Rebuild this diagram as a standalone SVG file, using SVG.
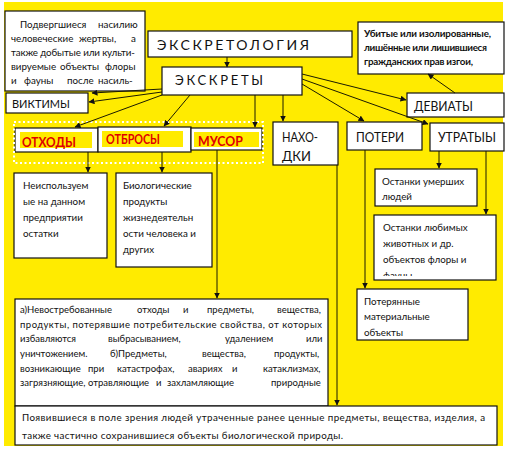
<svg xmlns="http://www.w3.org/2000/svg" width="509" height="450" viewBox="0 0 509 450">
<defs>
<style>
.box{fill:#fff;stroke:#111;stroke-width:1.2}
.t{font-family:Lato,"Open Sans","DejaVu Sans",sans-serif;fill:#111}
.s{font-size:9.8px}
.j{font-size:9.5px}
.m{font-size:13px}
.r{font-family:Lato,"Open Sans",sans-serif;font-size:14px;font-weight:bold;fill:#e00000}
.hl{fill:#ffeb00}
.c line{stroke:#1a1a00;stroke-width:1;marker-end:url(#ah)}
</style>
<marker id="ah" markerWidth="6" markerHeight="6" refX="5.5" refY="3" orient="auto" markerUnits="userSpaceOnUse">
<path d="M0,0 L6,3 L0,6 Z" fill="#111"/>
</marker>
<clipPath id="clipL"><rect x="375" y="216" width="120" height="60"/></clipPath>
</defs>
<rect x="4" y="2" width="499" height="444" fill="#ffeb00"/>

<g id="n-victims-desc">
<rect class="box" x="5" y="11" width="140" height="80"/>
<text class="t s" y="28"><tspan x="20">Подвергшиеся</tspan><tspan x="98">насилию</tspan></text>
<text class="t s" y="42"><tspan x="11">человеческие</tspan><tspan x="79">жертвы,</tspan><tspan x="131">а</tspan></text>
<text class="t s" x="11" y="56" textLength="124" lengthAdjust="spacing">также добытые или культи-</text>
<text class="t s" y="70"><tspan x="11">вируемые</tspan><tspan x="60">объекты</tspan><tspan x="105">флоры</tspan></text>
<text class="t s" y="84"><tspan x="11">и</tspan><tspan x="24">фауны</tspan><tspan x="67">после</tspan><tspan x="98">насиль-</tspan></text>
</g>

<g id="n-victims">
<rect class="box" x="6" y="93" width="82" height="20"/>
<text class="t" x="12" y="108" font-size="11">ВИКТИМЫ</text>
</g>

<g id="n-excretology">
<rect class="box" x="148" y="31" width="204" height="26"/>
<text class="t" x="157" y="50" font-size="14" textLength="152" lengthAdjust="spacing">ЭКСКРЕТОЛОГИЯ</text>
</g>

<g id="n-excreta">
<rect class="box" x="162" y="67" width="140" height="28"/>
<text class="t" x="175" y="85" font-size="13" textLength="88" lengthAdjust="spacing">ЭКСКРЕТЫ</text>
</g>

<g id="n-deviants-desc">
<rect class="box" x="358" y="22" width="146" height="52"/>
<text class="t s" x="364" y="37" font-weight="bold" textLength="127" lengthAdjust="spacing">Убитые или  изолированные,</text>
<text class="t s" x="364" y="51" font-weight="bold" textLength="123" lengthAdjust="spacing">лишённые или лишившиеся</text>
<text class="t s" x="364" y="65" font-weight="bold" textLength="109" lengthAdjust="spacing">гражданских прав изгои,</text>
</g>

<g id="n-deviants">
<rect class="box" x="407" y="93" width="97" height="24"/>
<text class="t m" x="414" y="111" textLength="59" lengthAdjust="spacingAndGlyphs">ДЕВИАТЫ</text>
</g>

<g id="n-otkhody">
<rect class="box" x="15" y="128" width="83" height="24"/>
<rect class="hl" x="20" y="132" width="72" height="16"/>
<text class="r" x="22" y="147" textLength="54" lengthAdjust="spacingAndGlyphs">ОТХОДЫ</text>
</g>

<g id="n-otbrosy">
<rect class="box" x="98" y="127" width="93" height="25"/>
<rect class="hl" x="102" y="131" width="81" height="16"/>
<text class="r" x="106" y="144" textLength="54" lengthAdjust="spacingAndGlyphs">ОТБРОСЫ</text>
</g>

<g id="n-musor">
<rect class="box" x="191" y="128" width="71" height="22"/>
<rect class="hl" x="194" y="132" width="65" height="15"/>
<text class="r" x="198" y="146" textLength="45" lengthAdjust="spacingAndGlyphs">МУСОР</text>
</g>

<rect x="14" y="122" width="249" height="41" fill="none" stroke="#fff" stroke-width="2" stroke-dasharray="2,2.5"/>

<g id="n-nakhodki">
<rect class="box" x="273" y="122" width="65" height="43"/>
<text class="t m" x="282" y="142" textLength="36" lengthAdjust="spacingAndGlyphs">НАХО-</text>
<text class="t m" x="282" y="161">ДКИ</text>
</g>

<g id="n-poteri">
<rect class="box" x="347" y="122" width="75" height="28"/>
<text class="t m" x="356" y="142" textLength="48" lengthAdjust="spacingAndGlyphs">ПОТЕРИ</text>
</g>

<g id="n-utraty">
<rect class="box" x="430" y="123" width="74" height="28"/>
<text class="t m" x="438" y="142" textLength="58" lengthAdjust="spacingAndGlyphs">УТРАТЫЫ</text>
</g>

<g id="n-unused">
<rect class="box" x="14" y="173" width="93" height="85"/>
<text class="t s" x="23" y="189">Неиспользуем</text>
<text class="t s" x="23" y="205">ые на данном</text>
<text class="t s" x="23" y="221">предприятии</text>
<text class="t s" x="23" y="237">остатки</text>
</g>

<g id="n-bio">
<rect class="box" x="116" y="173" width="96" height="94"/>
<text class="t s" x="123" y="189">Биологические</text>
<text class="t s" x="123" y="205">продукты</text>
<text class="t s" x="123" y="221">жизнедеятельн</text>
<text class="t s" x="123" y="237">ости человека и</text>
<text class="t s" x="123" y="253">других</text>
</g>

<g id="n-dead">
<rect class="box" x="375" y="169" width="102" height="37"/>
<text class="t s" x="382" y="185">Останки умерших</text>
<text class="t s" x="382" y="200">людей</text>
</g>

<g id="n-pets">
<rect class="box" x="374" y="215" width="122" height="65"/>
<g clip-path="url(#clipL)">
<text class="t s" x="383" y="231">Останки любимых</text>
<text class="t s" x="383" y="247">животных и др.</text>
<text class="t s" x="383" y="263">объектов флоры и</text>
<text class="t s" x="383" y="279">фауны</text>
</g>
</g>

<g id="n-lost">
<rect class="box" x="357" y="289" width="111" height="51"/>
<text class="t s" x="364" y="305">Потерянные</text>
<text class="t s" x="364" y="320">материальные</text>
<text class="t s" x="364" y="336">объекты</text>
</g>

<g id="n-musor-desc">
<rect class="box" x="15" y="299" width="313" height="107"/>
<text class="t j" y="313"><tspan x="20">а)Невостребованные</tspan><tspan x="137">отходы</tspan><tspan x="183">и</tspan><tspan x="207">предметы,</tspan><tspan x="277">вещества,</tspan></text>
<text class="t j" x="20" y="328" textLength="302" lengthAdjust="spacing">продукты, потерявшие потребительские свойства, от которых</text>
<text class="t j" y="342"><tspan x="20">избавляются</tspan><tspan x="108">выбрасыванием,</tspan><tspan x="225">удалением</tspan><tspan x="306">или</tspan></text>
<text class="t j" y="357"><tspan x="20">уничтожением.</tspan><tspan x="110">б)Предметы,</tspan><tspan x="202">вещества,</tspan><tspan x="274">продукты,</tspan></text>
<text class="t j" y="372"><tspan x="20">возникающие</tspan><tspan x="88">при</tspan><tspan x="117">катастрофах,</tspan><tspan x="188">авариях</tspan><tspan x="232">и</tspan><tspan x="263">катаклизмах,</tspan></text>
<text class="t j" y="386"><tspan x="20">загрязняющие,</tspan><tspan x="88">отравляющие</tspan><tspan x="156">и</tspan><tspan x="167">захламляющие</tspan><tspan x="271">природные</tspan></text>
</g>

<g id="n-finds-desc">
<rect class="box" x="15" y="406" width="482" height="39"/>
<text class="t s" x="22" y="421" textLength="463" lengthAdjust="spacing">Появившиеся в поле зрения людей  утраченные ранее ценные предметы, вещества, изделия, а</text>
<text class="t s" x="22" y="439" textLength="321" lengthAdjust="spacing">также  частично сохранившиеся объекты биологической природы.</text>
</g>

<g id="connectors" class="c">
<line x1="227" y1="57" x2="227" y2="67"/>
<line x1="162" y1="89" x2="92" y2="93"/>
<line x1="162" y1="92" x2="89" y2="102"/>
<line x1="162" y1="95" x2="75" y2="127"/>
<line x1="190" y1="95" x2="164" y2="126"/>
<line x1="255" y1="95" x2="255" y2="127"/>
<line x1="283" y1="95" x2="283" y2="121"/>
<line x1="302" y1="74" x2="406" y2="100"/>
<line x1="302" y1="79" x2="428" y2="124"/>
<line x1="302" y1="84" x2="364" y2="121"/>
<line x1="455" y1="93" x2="428" y2="74"/>
<line x1="88" y1="152" x2="88" y2="172"/>
<line x1="162" y1="152" x2="162" y2="172"/>
<line x1="217" y1="150" x2="217" y2="298"/>
<line x1="337" y1="165" x2="337" y2="405"/>
<line x1="365" y1="150" x2="365" y2="288"/>
<line x1="439" y1="151" x2="439" y2="168"/>
<line x1="486" y1="151" x2="486" y2="214"/>
</g>
</svg>
